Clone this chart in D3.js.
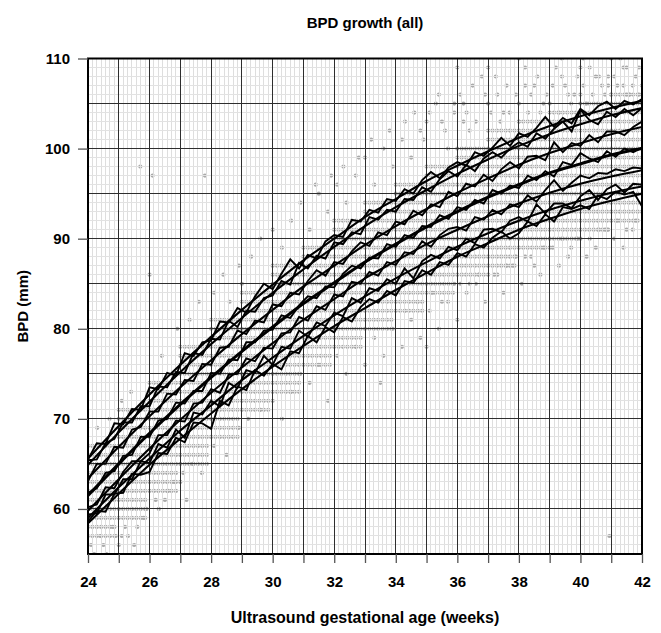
<!DOCTYPE html>
<html><head><meta charset="utf-8">
<script src="https://cdn.jsdelivr.net/npm/d3@7"></script>
<style>body{margin:0;background:#fff}</style>
</head><body><svg id="c" width="661" height="633"></svg>
<script>
// ---- data ----
const weeks = d3.range(24, 43);               // smooth centile knots
const xTicks = [24,26,28,30,32,34,36,38,40,42];
const yTicks = [60,70,80,90,100,110];

const s97 = [65.6,69.2,72.7,76.0,79.1,82.1,84.9,87.6,90.0,92.4,94.4,96.4,98.1,99.7,101.2,102.5,103.6,104.5,105.3];
const s95 = [64.9,68.5,71.9,75.2,78.3,81.2,84.0,86.6,89.1,91.4,93.5,95.4,97.2,98.8,100.3,101.6,102.7,103.7,104.5];
const s90 = [63.4,66.9,70.3,73.5,76.5,79.4,82.1,84.7,87.0,89.3,91.4,93.3,95.1,96.7,98.2,99.5,100.6,101.6,102.4];
const s50 = [61.5,65.0,68.4,71.6,74.6,77.5,80.2,82.8,85.1,87.4,89.4,91.3,93.0,94.6,96.0,97.3,98.3,99.3,100.0];
const s10 = [59.8,63.3,66.7,69.9,72.9,75.7,78.4,81.0,83.3,85.6,87.5,89.4,91.0,92.5,93.9,95.1,96.1,96.9,97.6];
const s5  = [59.0,62.4,65.6,68.7,71.5,74.3,76.8,79.2,81.5,83.6,85.6,87.4,89.1,90.6,92.0,93.2,94.2,95.1,95.8];
const s3  = [58.4,61.7,64.9,67.8,70.6,73.3,75.8,78.1,80.3,82.3,84.3,86.2,88.0,89.5,91.0,92.2,93.3,94.2,95.0];

// empirical centiles, every 2 days from 24w0d to 42w0d
const empDays = d3.range(0, 127, 2);
const e97 = [65.5,67.3,67.2,69.5,69.4,71.1,71.0, 73.5,73.3,75.1,74.8,77.3,77.0,78.5, 78.7,80.8,80.7,82.3,81.8,83.6,85.0, 84.4,86.1,87.7,86.7,88.2,87.8,89.7, 90.4,90.2,92.1,91.9,93.2,92.9,94.4, 94.2,95.5,95.0,96.5,97.4,96.7,97.9, 98.5,98.1,99.6,99.2,100.1,101.2,100.3, 101.7,101.3,102.3,103.5,102.4,103.4,102.8, 104.4,103.7,104.7,105.2,104.4,105.3,104.9, 105.5];
const e95 = [65.4,65.5,67.3,67.8,69.6,69.6,71.4, 71.4,73.6,73.5,75.2,75.1,77.3,77.1, 78.9,78.8,80.9,80.2,82.0,81.9,83.4, 83.7,85.3,84.9,87.3,86.7,88.1,87.8, 89.6,89.4,90.7,90.5,92.4,92.1,93.2, 93.0,94.4,94.3,95.7,95.2,96.6,97.5, 96.9,98.2,97.5,98.9,99.6,99.0,100.0, 100.7,100.2,101.7,101.1,102.2,103.0,101.9, 104.3,103.2,102.7,104.1,103.5,104.4,103.7, 104.5];
const e90 = [63.1,65.0,65.0,66.9,66.8,68.8,69.1, 70.8,70.8,72.8,72.7,74.3,74.2,76.1, 76.0,77.9,78.0,79.8,79.4,80.9,80.7, 82.7,82.5,84.0,83.8,85.3,86.5,85.9, 87.4,87.2,88.6,89.6,89.2,90.7,90.4, 91.9,91.6,93.1,92.6,93.8,93.5,95.2, 94.7,96.1,95.8,97.1,96.4,97.7,98.5, 97.8,99.1,99.2,98.7,100.7,99.6,100.6, 100.3,101.5,100.7,101.9,101.9,101.5,102.4, 103.0];
const e50 = [61.8,62.3,64.0,64.2,65.9,66.0,68.0, 68.0,69.8,70.0,71.8,71.7,73.1,73.1, 75.1,75.0,76.6,76.5,78.5,78.5,79.8, 79.9,81.5,81.2,82.6,83.6,83.4,84.7, 84.6,86.1,87.0,86.7,87.9,87.8,89.4, 89.1,90.4,90.1,91.4,91.3,92.6,92.2, 93.5,93.2,94.3,93.9,95.4,95.0,95.9, 95.6,97.0,96.5,97.5,96.9,98.5,98.2, 99.5,98.9,98.5,99.7,99.1,100.0,99.6, 100.1];
const e10 = [60.2,60.5,62.4,62.3,64.1,65.3,65.3, 66.2,68.2,68.2,69.8,69.7,71.7,71.8, 73.3,72.9,74.9,75.0,76.7,76.4,77.9, 77.8,79.5,79.6,81.3,80.9,82.5,82.1, 83.8,83.6,85.2,85.0,86.3,85.9,87.4, 87.1,88.5,88.3,89.7,89.1,90.4,91.1, 91.3,90.9,92.4,92.1,93.2,92.7,93.8, 93.5,94.8,94.1,95.4,96.5,95.3,96.2, 97.0,96.7,97.3,97.2,97.7,97.5,97.9, 97.8];
const e5  = [59.4,59.5,61.6,61.6,63.3,63.3,65.3, 65.1,67.2,66.8,68.8,67.9,70.7,70.5, 72.0,71.4,74.0,73.4,75.4,75.1,77.0, 76.0,78.0,77.8,79.8,79.1,80.7,80.3, 81.8,81.4,83.4,82.9,84.5,84.2,85.5, 85.0,86.7,85.6,87.5,88.2,87.8,89.1, 88.7,90.0,89.5,91.0,91.1,90.7,92.0, 92.4,91.9,93.8,92.8,93.9,93.9,93.4, 94.7,95.4,94.3,95.5,96.0,95.1,96.1, 96.0];
const e3  = [58.6,59.8,59.7,61.7,61.8,63.9,63.8, 64.1,66.2,66.1,67.9,67.4,69.6,69.5, 68.9,72.0,71.5,73.6,73.2,75.4,74.8, 76.1,75.5,77.5,77.3,79.2,78.5,80.2, 79.6,81.3,80.8,82.4,83.3,82.9,84.2, 83.7,85.3,85.1,86.5,86.0,87.4,87.1, 88.4,88.0,89.4,89.0,90.1,90.8,90.0, 90.6,91.9,91.4,92.7,91.9,93.5,93.3, 93.7,93.3,94.8,94.4,95.2,94.9,95.2, 93.6];

// dense measurement band (integer mm), per completed week 24..42
const denseLo = [57,59,62,65,68,71,73,76,78,80,82,84,86,87,89,90,91,92,93];
const denseHi = [67,71,74,78,81,84,87,89,92,94,96,98,100,102,103,104,105,106,106];

// sparse outlying measurements [week, mm]
const outliers = [
 [24.3,69],[24.7,70],[25.1,72],[25.4,73],[25.7,98],[26.1,97],[27.8,97],[26.0,86],[26.4,77],[26.9,80],[27.3,81],[27.6,83],[28.1,84],[28.4,86],[28.9,87],[29.3,88],[29.6,90],[30.0,91],[30.3,89],[29.0,85],[28.6,83],
 [30.6,92],[30.9,94],[31.2,91],[31.5,95],[31.8,93],[32.1,96],[32.4,94],[32.7,97],[33.0,99],[33.3,96],[33.6,100],[33.9,98],[34.2,101],[34.5,99],[34.8,102],[35.1,104],[35.3,105],[35.5,103],[35.7,100],[35.9,104],[36.2,105],[36.2,103],[36.4,102],
 [36.5,107],[36.9,106],[37.0,105],[37.25,108],[37.5,104],[37.7,104],[38.0,105],[38.2,107],[38.2,109],[38.5,107],[38.8,105],[38.9,106],[39.1,107],[39.4,108],[39.6,106],[39.8,106],[39.9,108],[40.1,107],[40.3,109],[40.6,108],[40.7,107],[40.9,108],[41.0,110],[41.1,108],[41.3,110],[41.4,107],[41.6,106],[41.8,108],[42.0,107],[41.5,109],
 [35.0,103],[35.4,106],[35.6,102],[35.9,105],[36.1,106],[36.3,104],[36.6,103],[36.8,108],[37.1,104],[37.3,106],[37.4,103],[37.6,107],[37.9,106],[38.0,103],[38.3,104],[38.4,106],[38.6,108],[38.7,104],[39.0,105],[39.2,109],[39.3,104],[39.5,107],[39.7,105],[40.0,106],[40.0,109],[40.2,105],[40.4,106],[40.5,108],[40.8,106],[40.9,107],[41.0,106],[41.2,107],[41.4,109],[41.5,106],[41.7,107],[41.9,109],[41.9,106],[40.1,110],[39.4,110],[38.0,110],[37.0,109],[36.0,109],[34.6,104],[34.9,101],[34.3,103],[33.8,102],[33.2,101],[32.8,99],[32.3,98],[31.9,97],[31.4,96],
 [24.2,55],[24.6,55],[25.0,56],[25.3,57],[25.6,58],[25.9,60],[26.3,60],[26.6,62],[27.0,63],[27.4,65],[27.7,64],[28.1,67],[28.5,66],[28.9,69],[29.2,70],[29.6,71],[30.0,72],[30.3,70],[27.2,61],
 [24.1,56],[24.4,57],[24.9,57],[25.2,58],[25.5,56],[25.8,59],[26.2,61],[26.5,61],[26.8,63],[27.1,64],[24.5,56],[24.8,58],[25.1,57],
 [30.6,73],[30.9,75],[31.2,74],[31.5,76],[31.8,72],[32.1,77],[32.4,75],[32.7,78],[33.0,76],[33.3,79],[33.6,77],[33.9,80],[34.2,78],[34.5,81],[34.8,79],[35.1,82],[35.4,80],[35.7,83],[36.0,81],[36.3,84],[33.5,74],[35.0,78],
 [34.3,82],[34.7,83],[35.2,84],[35.5,83],[35.9,85],[36.1,85],[36.4,85],[36.7,86],[37.0,86],[37.3,86],[37.6,87],[37.9,88],[38.2,88],[38.5,87],[38.8,89],[39.1,89],[39.4,90],[39.7,89],[40.0,90],[40.3,90],[40.6,91],[40.9,91],[41.2,92],[41.5,91],[41.8,92],
 [36.6,85],[36.9,83],[37.2,86],[37.5,84],[37.8,87],[38.1,85],[38.4,88],[38.7,86],[39.0,89],[39.3,87],[39.6,88],[39.9,90],[40.2,88],[40.5,89],[40.8,91],[41.1,90],[41.4,89],[41.7,91],[42.0,90],[40.94,57]
];

// ---- drawing ----
const W = 661, H = 633;
const x = d3.scaleLinear().domain([24, 42]).range([88, 642]);
const y = d3.scaleLinear().domain([55, 110]).range([554, 58.5]);
const svg = d3.select("#c");
svg.append("rect").attr("width", W).attr("height", H).attr("fill", "#fff");

svg.append("clipPath").attr("id", "clip").append("rect")
  .attr("x", x(24)).attr("y", y(110)).attr("width", x(42) - x(24)).attr("height", y(55) - y(110));
const plot = svg.append("g").attr("clip-path", "url(#clip)");

// measurements
const dense = [];
for (let d = 0; d <= 126; d++) {
  const wi = Math.min(18, Math.floor(d / 7));
  for (let mm = denseLo[wi]; mm <= denseHi[wi]; mm++) dense.push([24 + d / 7, mm]);
}
plot.append("g").selectAll("circle").data(dense.concat(outliers)).join("circle")
  .attr("cx", d => x(d[0])).attr("cy", d => y(d[1])).attr("r", 2.1)
  .attr("fill", "#a9a9a9");

// minor grid (days, mm)
const minorX = d3.range(0, 127).map(d => 24 + d / 7);
const minorY = d3.range(55, 111);
const g = plot.append("g").attr("shape-rendering", "crispEdges");
g.selectAll(".mx").data(minorX).join("line")
  .attr("x1", d => x(d)).attr("x2", d => x(d)).attr("y1", y(55)).attr("y2", y(110))
  .attr("stroke", "#dedede").attr("stroke-width", 1);
g.selectAll(".my").data(minorY).join("line")
  .attr("x1", x(24)).attr("x2", x(42)).attr("y1", d => y(d)).attr("y2", d => y(d))
  .attr("stroke", "#e2e2e2").attr("stroke-width", 1);
// major grid (weeks, 5 mm)
g.selectAll(".Mx").data(weeks).join("line")
  .attr("x1", d => x(d)).attr("x2", d => x(d)).attr("y1", y(55)).attr("y2", y(110))
  .attr("stroke", "#2e2e2e").attr("stroke-width", 1);
g.selectAll(".My").data(d3.range(55, 111, 5)).join("line")
  .attr("x1", x(24)).attr("x2", x(42)).attr("y1", d => y(d)).attr("y2", d => y(d))
  .attr("stroke", "#2e2e2e").attr("stroke-width", 1);

// empirical centile lines
const empLine = d3.line().x((v, i) => x(24 + empDays[i] / 7)).y(v => y(v));
[e97, e95, e90, e50, e10, e5, e3].forEach(s => {
  plot.append("path").attr("d", empLine(s)).attr("fill", "none")
    .attr("stroke", "#000").attr("stroke-width", 1.9).attr("stroke-linejoin", "miter");
});
// smoothed centile curves
const smLine = d3.line().x((v, i) => x(weeks[i])).y(v => y(v)).curve(d3.curveMonotoneX);
[[s97,2.1],[s95,2.1],[s90,2.1],[s50,3],[s10,2.1],[s5,2.1],[s3,2.1]].forEach(([s, w]) => {
  plot.append("path").attr("d", smLine(s)).attr("fill", "none")
    .attr("stroke", "#000").attr("stroke-width", w);
});

// frame
svg.append("rect").attr("x", x(24)).attr("y", y(110)).attr("width", x(42) - x(24)).attr("height", y(55) - y(110))
  .attr("fill", "none").attr("stroke", "#000").attr("stroke-width", 2);

// axes
const font = "'Liberation Sans', Arial, Helvetica, sans-serif";
const xAxis = d3.axisBottom(x).tickValues(weeks).tickSize(9).tickPadding(13)
  .tickFormat(d => xTicks.includes(d) ? d : "");
const xa = svg.append("g").attr("transform", `translate(0,${y(55)})`).call(xAxis);
const yAxis = d3.axisLeft(y).tickValues(yTicks).tickSize(10).tickPadding(8);
const ya = svg.append("g").attr("transform", `translate(${x(24)},0)`).call(yAxis);
[xa, ya].forEach(a => {
  a.select(".domain").remove();
  a.selectAll(".tick line").attr("stroke", "#555").attr("stroke-width", 1.3);
  a.selectAll(".tick text").attr("fill", "#000").style("font-family", font)
    .style("font-size", "15px").style("font-weight", "bold");
});

svg.append("text").attr("x", 365).attr("y", 28).attr("text-anchor", "middle")
  .style("font-family", font).style("font-size", "15px").style("font-weight", "bold")
  .text("BPD growth (all)");
svg.append("text").attr("x", 365).attr("y", 623).attr("text-anchor", "middle")
  .style("font-family", font).style("font-size", "16px").style("font-weight", "bold")
  .text("Ultrasound gestational age (weeks)");
svg.append("text").attr("transform", `translate(28,${(y(55) + y(110)) / 2}) rotate(-90)`)
  .attr("text-anchor", "middle")
  .style("font-family", font).style("font-size", "15px").style("font-weight", "bold")
  .text("BPD (mm)");
</script>
</body></html>
